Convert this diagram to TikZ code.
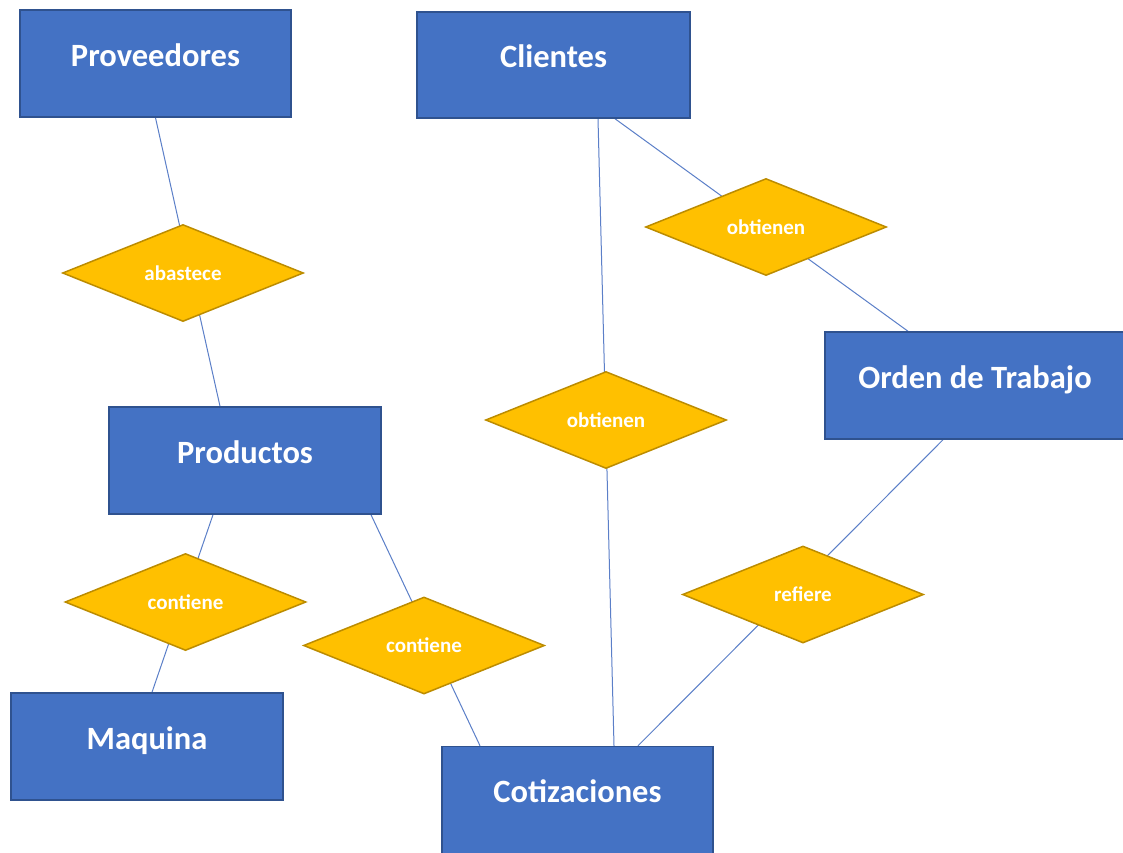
\documentclass[tikz,border=0pt]{standalone}
\usepackage{fontspec}
\setmainfont{Carlito}
\usetikzlibrary{shapes.geometric,backgrounds}
\definecolor{entblue}{HTML}{4472C4}
\definecolor{entborder}{HTML}{2F528F}
\definecolor{relgold}{HTML}{FFC000}
\definecolor{relborder}{HTML}{BC8C00}
\definecolor{linkblue}{HTML}{5B7FC8}

\begin{document}
\begin{tikzpicture}[x=1pt,y=-1pt,
  entity/.style={rectangle, fill=entblue, draw=entborder, line width=1.5pt, text=white,
    font=\fontsize{32.5}{38}\selectfont\bfseries, minimum width=271pt, minimum height=107pt,
    inner sep=0pt, text height=20pt, text depth=15pt},
  relation/.style={diamond, fill=relgold, draw=relborder, line width=1.5pt, text=white,
    font=\fontsize{21}{25}\selectfont\bfseries, minimum width=241pt, minimum height=97pt,
    inner sep=0pt},
  link/.style={draw=linkblue, line width=1pt}]
\useasboundingbox (0,0) rectangle (1123,852);
\node[entity] (prov) at (155.5,63.5) {Proveedores};
\node[entity, minimum width=273pt, minimum height=106pt] (cli) at (553.5,65) {Clientes};
\node[entity, minimum width=300pt] (orden) at (975,385.5) {Orden de Trabajo};
\node[entity, minimum width=272pt] (prod) at (245,460.5) {Productos};
\node[entity, minimum width=272pt] (maq) at (147,746.5) {Maquina};
\node[entity] (coti) at (577.5,800) {Cotizaciones};
\node[relation] (abas) at (183,273) {abastece};
\node[relation] (obt1) at (766,227) {obtienen};
\node[relation] (obt2) at (606,420) {obtienen};
\node[relation] (cont1) at (185.5,602) {contiene};
\node[relation] (cont2) at (424,645.5) {contiene};
\node[relation] (ref) at (803,594.5) {refiere};
\begin{pgfonlayer}{background}
\fill[white] (0,0) rectangle (1123,852);
\draw[link] (prov.south) -- ([xshift=-25pt]prod.north);
\draw[link] ([xshift=44.5pt]cli.south) -- ([xshift=36.5pt]coti.north);
\draw[link] ([xshift=61.5pt]cli.south) -- ([xshift=-67pt]orden.north);
\draw[link] ([xshift=-32pt]orden.south) -- ([xshift=60.5pt]coti.north);
\draw[link] ([xshift=-32pt]prod.south) -- ([xshift=5pt]maq.north);
\draw[link] ([xshift=126pt]prod.south) -- ([xshift=-97.5pt]coti.north);
\end{pgfonlayer}
\end{tikzpicture}
\end{document}
